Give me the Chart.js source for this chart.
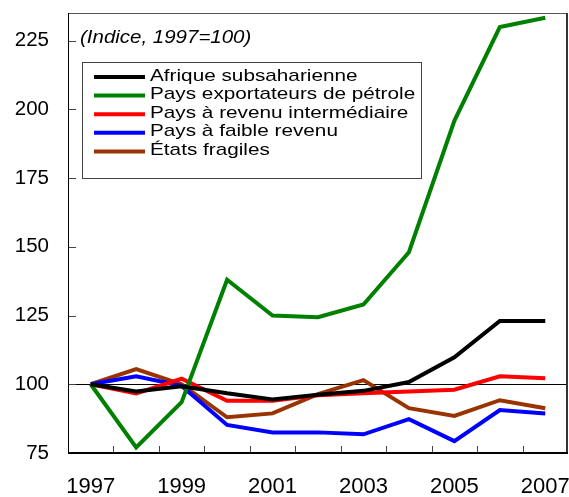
<!DOCTYPE html>
<html lang="fr">
<head>
    <meta charset="UTF-8">
    <title>Indice 1997=100</title>
    <script src="https://cdn.jsdelivr.net/npm/chart.js@4.4.1/dist/chart.umd.min.js"></script>
    <style>
        * { margin: 0; padding: 0; box-sizing: border-box; }
        body { background: #fff; width: 569px; height: 497px; overflow: hidden; }
        .wrap { width: 569px; height: 497px; }
    </style>
</head>
<body>
    <div class="wrap"><canvas id="chart" width="569" height="497"></canvas></div>

    <script>
        const years = ['1997', '1998', '1999', '2000', '2001', '2002', '2003', '2004', '2005', '2006', '2007'];
        const afrique = [100, 97.4, 99.3, 96.7, 94.5, 96.2, 97.6, 100.8, 109.8, 123, 123];
        const petrole = [100, 77, 93.5, 138, 125, 124.4, 129, 148, 195.8, 229.9, 233.3];
        const intermediaire = [100, 96.7, 102, 94, 94, 96, 96.7, 97.4, 98, 102.9, 102.2];
        const faible = [100, 102.9, 99.4, 85.2, 82.5, 82.5, 81.8, 87.3, 79.3, 90.6, 89.4];
        const fragiles = [100, 105.5, 100, 88, 89.4, 96.4, 101.5, 91.3, 88.5, 94.2, 91.3];
        const yTicks = [75, 100, 125, 150, 175, 200, 225];
        const subtitle = '(Indice, 1997=100)';

        const series = [
            { label: 'Afrique subsaharienne', data: afrique, color: '#000000' },
            { label: 'Pays exportateurs de pétrole', data: petrole, color: '#008000' },
            { label: 'Pays à revenu intermédiaire', data: intermediaire, color: '#ff0000' },
            { label: 'Pays à faible revenu', data: faible, color: '#0000ff' },
            { label: 'États fragiles', data: fragiles, color: '#993300' }
        ];

        const font = '"Liberation Sans", Arial, sans-serif';

        function noPad(s) {
            s.paddingLeft = 0;
            s.paddingRight = 0;
            s.paddingTop = 0;
            s.paddingBottom = 0;
        }

        // texte un peu élargi, comme dans l'original
        function wideText(ctx, txt, x, y, sx) {
            ctx.save();
            ctx.translate(x, y);
            ctx.scale(sx, 1);
            ctx.fillText(txt, 0, 0);
            ctx.restore();
        }

        // cadre, ligne 100, graduations, légende
        const decor = {
            id: 'decor',
            beforeDatasetsDraw(chart) {
                const ctx = chart.ctx;
                const a = chart.chartArea;
                const y = chart.scales.y;
                const x = chart.scales.x;
                ctx.save();
                ctx.lineWidth = 1;
                // ligne de référence à 100
                ctx.strokeStyle = '#000';
                const y100 = Math.round(y.getPixelForValue(100)) + 0.5;
                ctx.beginPath();
                ctx.moveTo(a.left, y100);
                ctx.lineTo(a.right, y100);
                ctx.stroke();
                // graduations
                ctx.strokeStyle = '#444';
                yTicks.forEach(v => {
                    const py = Math.round(y.getPixelForValue(v)) + 0.5;
                    ctx.beginPath();
                    ctx.moveTo(a.left, py);
                    ctx.lineTo(a.left + 8, py);
                    ctx.stroke();
                });
                for (let i = 0; i < years.length - 1; i++) {
                    const px = Math.round((x.getPixelForValue(i) + x.getPixelForValue(i + 1)) / 2) + 0.5;
                    ctx.beginPath();
                    ctx.moveTo(px, a.bottom);
                    ctx.lineTo(px, a.bottom - 7);
                    ctx.stroke();
                }
                ctx.restore();
            },
            afterDraw(chart) {
                const ctx = chart.ctx;
                const a = chart.chartArea;
                ctx.save();
                // cadre
                ctx.lineWidth = 1;
                ctx.strokeStyle = '#555';
                ctx.beginPath();
                ctx.moveTo(a.left, a.top + 0.5);
                ctx.lineTo(a.right, a.top + 0.5);
                ctx.stroke();
                ctx.strokeStyle = '#000';
                ctx.beginPath();
                ctx.moveTo(a.left + 0.5, a.top);
                ctx.lineTo(a.left + 0.5, a.bottom);
                ctx.stroke();
                ctx.lineWidth = 2;
                ctx.strokeStyle = '#333';
                ctx.beginPath();
                ctx.moveTo(a.right - 1, a.top);
                ctx.lineTo(a.right - 1, a.bottom + 1);
                ctx.stroke();
                ctx.strokeStyle = '#000';
                ctx.beginPath();
                ctx.moveTo(a.left, a.bottom);
                ctx.lineTo(a.right, a.bottom);
                ctx.stroke();

                // sous-titre
                ctx.fillStyle = '#000';
                ctx.font = 'italic 17.5px ' + font;
                ctx.textBaseline = 'alphabetic';
                wideText(ctx, subtitle, 80, 43, 1.17);

                // légende
                ctx.fillStyle = '#fff';
                ctx.fillRect(82, 62, 340, 116);
                ctx.strokeStyle = '#444';
                ctx.lineWidth = 1;
                ctx.strokeRect(82.5, 62.5, 339, 116);
                ctx.font = '17px ' + font;
                series.forEach((s, i) => {
                    const ly = 77 + i * 18.6;
                    ctx.strokeStyle = s.color;
                    ctx.lineWidth = 4;
                    ctx.beginPath();
                    ctx.moveTo(94, ly);
                    ctx.lineTo(145, ly);
                    ctx.stroke();
                    ctx.fillStyle = '#000';
                    wideText(ctx, s.label, 150, ly + 3.5, 1.22);
                });
                ctx.restore();
            }
        };

        new Chart(document.getElementById('chart'), {
            type: 'line',
            data: {
                labels: years,
                datasets: series.map(s => ({
                    label: s.label,
                    data: s.data,
                    borderColor: s.color,
                    backgroundColor: s.color,
                    borderWidth: 4,
                    pointRadius: 0,
                    tension: 0
                }))
            },
            options: {
                responsive: false,
                animation: false,
                layout: { padding: { top: 13, right: 1, left: 0, bottom: 0 } },
                plugins: {
                    legend: { display: false },
                    tooltip: { enabled: false }
                },
                scales: {
                    x: {
                        offset: true,
                        grid: { display: false, drawTicks: false },
                        border: { display: false },
                        afterFit: s => { s.height = 44; noPad(s); },
                        ticks: {
                            autoSkip: false,
                            maxRotation: 0,
                            padding: 21,
                            color: '#000',
                            font: { family: font, size: 22 },
                            callback: (v, i) => (i % 2 === 0 ? years[i] : '')
                        }
                    },
                    y: {
                        min: 75,
                        max: 235,
                        grid: { display: false, drawTicks: false },
                        border: { display: false },
                        afterFit: s => { s.width = 68; noPad(s); },
                        afterBuildTicks: s => { s.ticks = yTicks.map(v => ({ value: v })); },
                        ticks: {
                            padding: 19,
                            color: '#000',
                            font: { family: font, size: 20.5 }
                        }
                    }
                }
            },
            plugins: [decor]
        });
    </script>
</body>
</html>
